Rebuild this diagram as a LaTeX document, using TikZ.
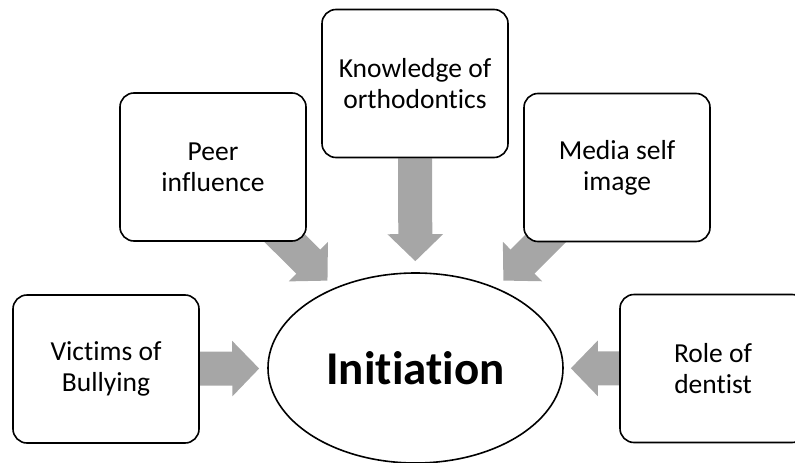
\documentclass[tikz,border=0pt]{standalone}
\usepackage{fontspec}
\setmainfont{Carlito}[Ligatures=NoCommon]
\usetikzlibrary{arrows.meta,backgrounds,shapes.geometric}
\begin{document}
\begin{tikzpicture}[x=1pt,y=-1pt,
  every node/.style={align=center,font=\fontsize{27.5}{31}\selectfont},
  factor/.style={draw,line width=1.6pt,rounded corners=14pt,fill=white,
    minimum width=186pt,minimum height=148pt,inner sep=0pt},
  centre/.style={draw,line width=1.6pt,ellipse,fill=white,
    minimum width=295pt,minimum height=190pt,inner sep=0pt,
    font=\fontsize{47}{56}\selectfont\bfseries},
  bigarrow/.style={draw=gray!70,line width=34pt,
    -{Triangle[length=27pt,width=54pt]}}]
\useasboundingbox (0,0) rectangle (795,463);
\node[centre] (init) at (415.5,368) {Initiation};
\node[factor] (vict) at (106,369) {Victims of\\Bullying};
\node[factor] (peer) at (213,167) {Peer\\influence};
\node[factor] (know) at (415,83.5) {Knowledge of\\orthodontics};
\node[factor] (media) at (617,167.5) {Media self\\image};
\node[factor] (dent) at (713,368.5) {Role of\\dentist};
\begin{scope}[on background layer]
  \draw[bigarrow,shorten >=8pt] (vict) -- (init);
  \draw[bigarrow,shorten >=10pt] (peer.center) -- (init);
  \draw[bigarrow,shorten >=11pt] (know) -- (init);
  \draw[bigarrow,shorten >=10pt] (media.center) -- (init);
  \draw[bigarrow,shorten >=7pt] (dent) -- (init);
\end{scope}
\end{tikzpicture}
\end{document}
